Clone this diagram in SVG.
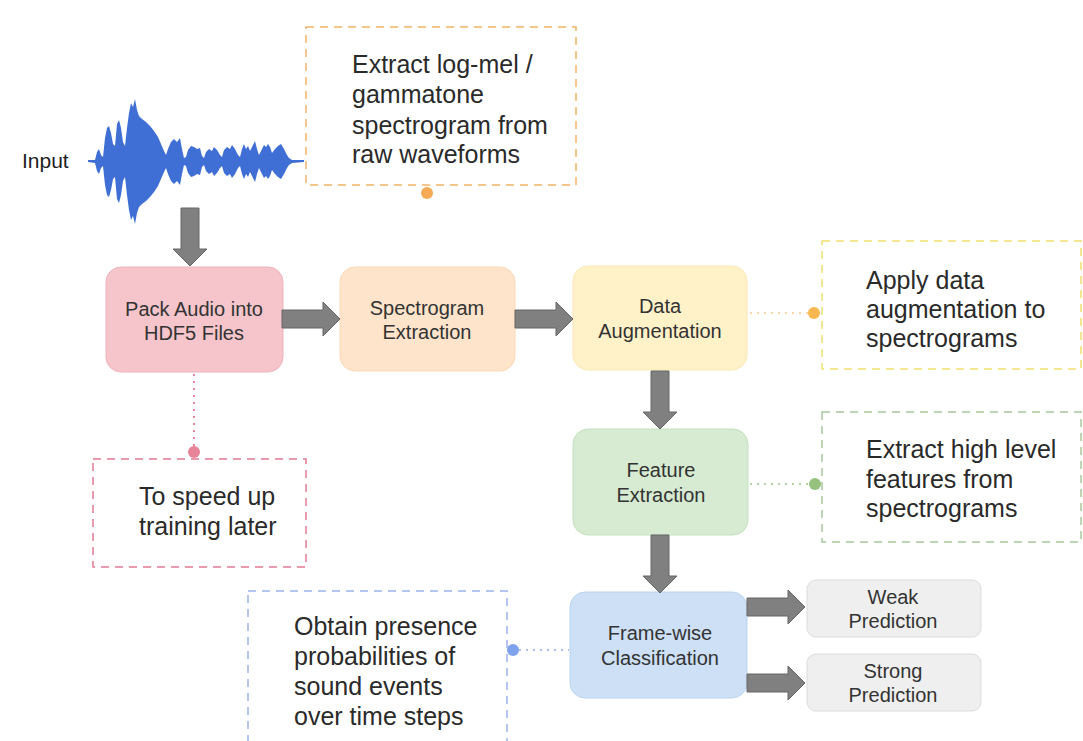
<svg xmlns="http://www.w3.org/2000/svg" xmlns:xlink="http://www.w3.org/1999/xlink" width="1083" height="741" viewBox="0 0 1083 741">
<style>
.node text{font-family:"Liberation Sans",Arial,sans-serif;font-size:20px;fill:#333;text-anchor:middle}
.note text{font-family:"Liberation Sans",Arial,sans-serif;font-size:25px;fill:#2a2a2a}
.note rect{fill:#fff;stroke-width:1.5;stroke-dasharray:8 6}
.arrow{fill:#808080;stroke:#666;stroke-width:1}
.dots{fill:none;stroke-width:2;stroke-dasharray:2 5}
</style>
<defs>
<path id="arrR" d="M0,-9 H41 V-17 L58,0 L41,17 V9 H0 Z"/>
</defs>
<rect width="1083" height="741" fill="#fff"/>

<g id="input">
<text x="22" y="168" font-family="Liberation Sans, Arial, sans-serif" font-size="21" fill="#222">Input</text>
<g fill="#3f6fd4">
<path id="wavetop" d="M88,161 L95,160 L97,152 L99,149 L101,155 L103,157 L105,138 L107,128 L109,126 L111,133 L113,144 L115,146 L117,124 L119,120 L121,128 L123,142 L125,146 L127,128 L129,113 L131,103 L133,107 L135,99 L137,110 L139,116 L142,119 L146,122 L150,126 L154,131 L158,137 L161,144 L164,151 L166,155 L168,149 L171,142 L174,139 L177,142 L180,138 L182,149 L184,158 L186,157 L188,150 L191,146 L194,147 L197,149 L200,148 L202,156 L204,158 L206,152 L209,149 L212,151 L214,147 L217,150 L220,155 L222,157 L224,150 L227,147 L230,149 L232,145 L235,149 L238,155 L240,157 L242,149 L244,144 L246,149 L248,146 L250,151 L252,147 L255,141 L257,149 L259,155 L262,149 L264,145 L266,147 L268,144 L270,147 L272,153 L275,149 L278,146 L281,144 L284,149 L287,155 L289,158 L292,160 L304,161 Z"/>
<use xlink:href="#wavetop" transform="translate(0,323) scale(1,-1)"/>
<rect x="88" y="160" width="216" height="2"/>
</g>
</g>

<g id="note-extract" class="note">
<rect x="306" y="27" width="270" height="158" stroke="#f4b36a"/>
<text x="352" y="73">Extract log-mel /</text>
<text x="352" y="103">gammatone</text>
<text x="352" y="134">spectrogram from</text>
<text x="352" y="163">raw waveforms</text>
<circle cx="427" cy="193" r="6" fill="#f6aa55"/>
</g>

<g id="pack" class="node">
<rect x="106" y="267" width="177" height="105" rx="15" fill="#f5c5cb" stroke="#eeb3bb"/>
<text x="194" y="316">Pack Audio into</text>
<text x="194" y="340">HDF5 Files</text>
</g>

<g id="spectrogram" class="node">
<rect x="340" y="267" width="175" height="104" rx="15" fill="#fde4ca" stroke="#fbd9b5"/>
<text x="427" y="315">Spectrogram</text>
<text x="427" y="339">Extraction</text>
</g>

<g id="augmentation" class="node">
<rect x="573" y="266" width="174" height="104" rx="15" fill="#fff1c8" stroke="#fbe8b3"/>
<text x="660" y="313">Data</text>
<text x="660" y="338">Augmentation</text>
</g>

<g id="note-augment" class="note">
<rect x="822" y="241" width="259" height="128" stroke="#efe070"/>
<text x="866" y="289">Apply data</text>
<text x="866" y="318">augmentation to</text>
<text x="866" y="347">spectrograms</text>
<circle cx="814" cy="313" r="6" fill="#f7b850"/>
</g>

<g id="feature" class="node">
<rect x="573" y="429" width="175" height="106" rx="15" fill="#d6ebd1" stroke="#c6e1c0"/>
<text x="661" y="477">Feature</text>
<text x="661" y="502">Extraction</text>
</g>

<g id="note-feature" class="note">
<rect x="822" y="412" width="259" height="130" stroke="#a9c79c"/>
<text x="866" y="458">Extract high level</text>
<text x="866" y="488">features from</text>
<text x="866" y="517">spectrograms</text>
<circle cx="815" cy="484" r="6" fill="#96c17e"/>
</g>

<g id="note-speed" class="note">
<rect x="93" y="459" width="213" height="108" stroke="#e47a92"/>
<text x="139" y="505">To speed up</text>
<text x="139" y="535">training later</text>
<circle cx="194" cy="452" r="6" fill="#e7849a"/>
</g>

<g id="framewise" class="node">
<rect x="570" y="592" width="177" height="106" rx="15" fill="#cde0f5" stroke="#bbd4ef"/>
<text x="660" y="640">Frame-wise</text>
<text x="660" y="665">Classification</text>
</g>

<g id="note-obtain" class="note">
<rect x="248" y="591" width="259" height="160" stroke="#9db3ee"/>
<text x="294" y="635">Obtain presence</text>
<text x="294" y="665">probabilities of</text>
<text x="294" y="695">sound events</text>
<text x="294" y="725">over time steps</text>
<circle cx="513" cy="650" r="6" fill="#7ea2ee"/>
</g>

<g id="weak" class="node">
<rect x="807" y="580" width="174" height="57" rx="9" fill="#efefef" stroke="#dcdcdc"/>
<text x="893" y="604">Weak</text>
<text x="893" y="628">Prediction</text>
</g>

<g id="strong" class="node">
<rect x="807" y="654" width="174" height="57" rx="9" fill="#efefef" stroke="#dcdcdc"/>
<text x="893" y="678">Strong</text>
<text x="893" y="702">Prediction</text>
</g>

<g id="connectors">
<use xlink:href="#arrR" class="arrow" transform="translate(190,208) rotate(90)"/>
<use xlink:href="#arrR" class="arrow" transform="translate(282,319)"/>
<use xlink:href="#arrR" class="arrow" transform="translate(515,319)"/>
<use xlink:href="#arrR" class="arrow" transform="translate(660,371) rotate(90)"/>
<use xlink:href="#arrR" class="arrow" transform="translate(660,535) rotate(90)"/>
<use xlink:href="#arrR" class="arrow" transform="translate(747,607)"/>
<use xlink:href="#arrR" class="arrow" transform="translate(747,683)"/>
<line class="dots" x1="194" y1="374" x2="194" y2="446" stroke="#e7849a"/>
<line class="dots" x1="750" y1="313" x2="808" y2="313" stroke="#f9d7a8"/>
<line class="dots" x1="750" y1="484" x2="809" y2="484" stroke="#b5d3a5"/>
<line class="dots" x1="519" y1="650" x2="569" y2="650" stroke="#a9c0ef"/>
</g>
</svg>
